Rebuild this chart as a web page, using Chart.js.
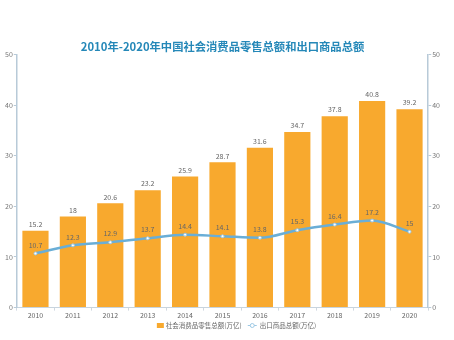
<!DOCTYPE html>
<html><head><meta charset="utf-8">
<script src="https://cdn.jsdelivr.net/npm/chart.js@4"></script>
<style>html,body{margin:0;padding:0;background:#fff}#wrap{width:454px;height:340px}</style>
</head><body><div id="wrap"><canvas id="c" width="454" height="340"></canvas></div>
<script>
const years = ['2010','2011','2012','2013','2014','2015','2016','2017','2018','2019','2020'];
const retailSales = [15.2,18,20.6,23.2,25.9,28.7,31.6,34.7,37.8,40.8,39.2];
const exportsTotal = [10.7,12.3,12.9,13.7,14.4,14.1,13.8,15.3,16.4,17.2,15];
const titleText = '2010年-2020年中国社会消费品零售总额和出口商品总额';
const retailLabel = '社会消费品零售总额(万亿)';
const exportLabel = '出口商品总额(万亿)';

const FONT = '"Noto Sans CJK SC", "Noto Sans", sans-serif';
const BAR_COLOR = '#f8a92e';
const LINE_COLOR = '#6aaed6';

const labelPlugin = {
  id: 'vals',
  afterDatasetsDraw(chart) {
    const ctx = chart.ctx;
    ctx.save();
    ctx.font = '7px ' + FONT;
    ctx.fillStyle = '#666';
    ctx.textAlign = 'center';
    ctx.textBaseline = 'bottom';
    chart.data.datasets.forEach((ds, i) => {
      const meta = chart.getDatasetMeta(i);
      meta.data.forEach((el, j) => {
        const off = ds.type === 'line' ? 5 : 3;
        ctx.fillText(String(ds.data[j]), el.x, el.y - off);
      });
    });
    ctx.restore();
  }
};

const legendPlugin = {
  id: 'customLegend',
  afterDraw(chart) {
    const ctx = chart.ctx;
    ctx.save();
    ctx.font = '6.5px ' + FONT;
    ctx.textBaseline = 'middle';
    ctx.textAlign = 'left';
    const w1 = ctx.measureText(retailLabel).width;
    const w2 = ctx.measureText(exportLabel).width;
    const total = 7 + 2 + w1 + 6 + 9 + 3 + w2;
    const cx = (chart.chartArea.left + chart.chartArea.right) / 2 + 14;
    let x = cx - total / 2;
    const y = 325.5;
    ctx.fillStyle = BAR_COLOR;
    ctx.fillRect(x, y - 2.5, 7, 5);
    x += 9;
    ctx.fillStyle = '#666';
    ctx.fillText(retailLabel, x, y);
    x += w1 + 6;
    ctx.strokeStyle = '#9cc8e4';
    ctx.lineWidth = 1;
    ctx.beginPath(); ctx.moveTo(x, y); ctx.lineTo(x + 9, y); ctx.stroke();
    ctx.beginPath(); ctx.arc(x + 4.5, y, 2, 0, Math.PI * 2);
    ctx.fillStyle = '#fff'; ctx.fill(); ctx.stroke();
    x += 12;
    ctx.fillStyle = '#666';
    ctx.fillText(exportLabel, x, y);
    ctx.restore();
  }
};

new Chart(document.getElementById('c'), {
  data: {
    labels: years,
    datasets: [
      { type: 'line', label: exportLabel, data: exportsTotal, yAxisID: 'y',
        borderColor: LINE_COLOR, borderWidth: 2.5, tension: 0.4, cubicInterpolationMode: 'monotone',
        pointRadius: 1.5, pointBackgroundColor: '#ffffff', pointBorderColor: '#9cc8e4', pointBorderWidth: 1,
        order: 0 },
      { type: 'bar', label: retailLabel, data: retailSales, yAxisID: 'y',
        backgroundColor: BAR_COLOR, categoryPercentage: 0.7, barPercentage: 1.0, order: 1 }
    ]
  },
  options: {
    responsive: false, animation: false,
    layout: { padding: { left: 4, right: 13, top: 0, bottom: 19 } },
    plugins: {
      title: { display: true, text: titleText, color: '#2588b8',
        font: { family: FONT, size: 11.3, weight: 'bold' }, padding: { top: 40, bottom: 1 } },
      legend: { display: false },
      tooltip: { enabled: false }
    },
    scales: {
      x: { grid: { display: true, drawOnChartArea: false, tickLength: 3, color: '#d0d8e0', offset: true },
        border: { color: '#c8d4de' },
        ticks: { color: '#666', font: { family: FONT, size: 7 }, padding: 1 } },
      y: { position: 'left', min: 0, max: 50,
        grid: { drawOnChartArea: false, tickLength: 3, color: '#b8cad8' },
        border: { color: '#b8cad8', width: 1.5 },
        ticks: { stepSize: 10, color: '#777', font: { family: FONT, size: 7 }, padding: 1 } },
      y2: { position: 'right', min: 0, max: 50,
        grid: { drawOnChartArea: false, tickLength: 3, color: '#b8cad8' },
        border: { color: '#b8cad8', width: 1.5 },
        ticks: { stepSize: 10, color: '#777', font: { family: FONT, size: 7 }, padding: 1 } }
    }
  },
  plugins: [labelPlugin, legendPlugin]
});
</script></body></html>
